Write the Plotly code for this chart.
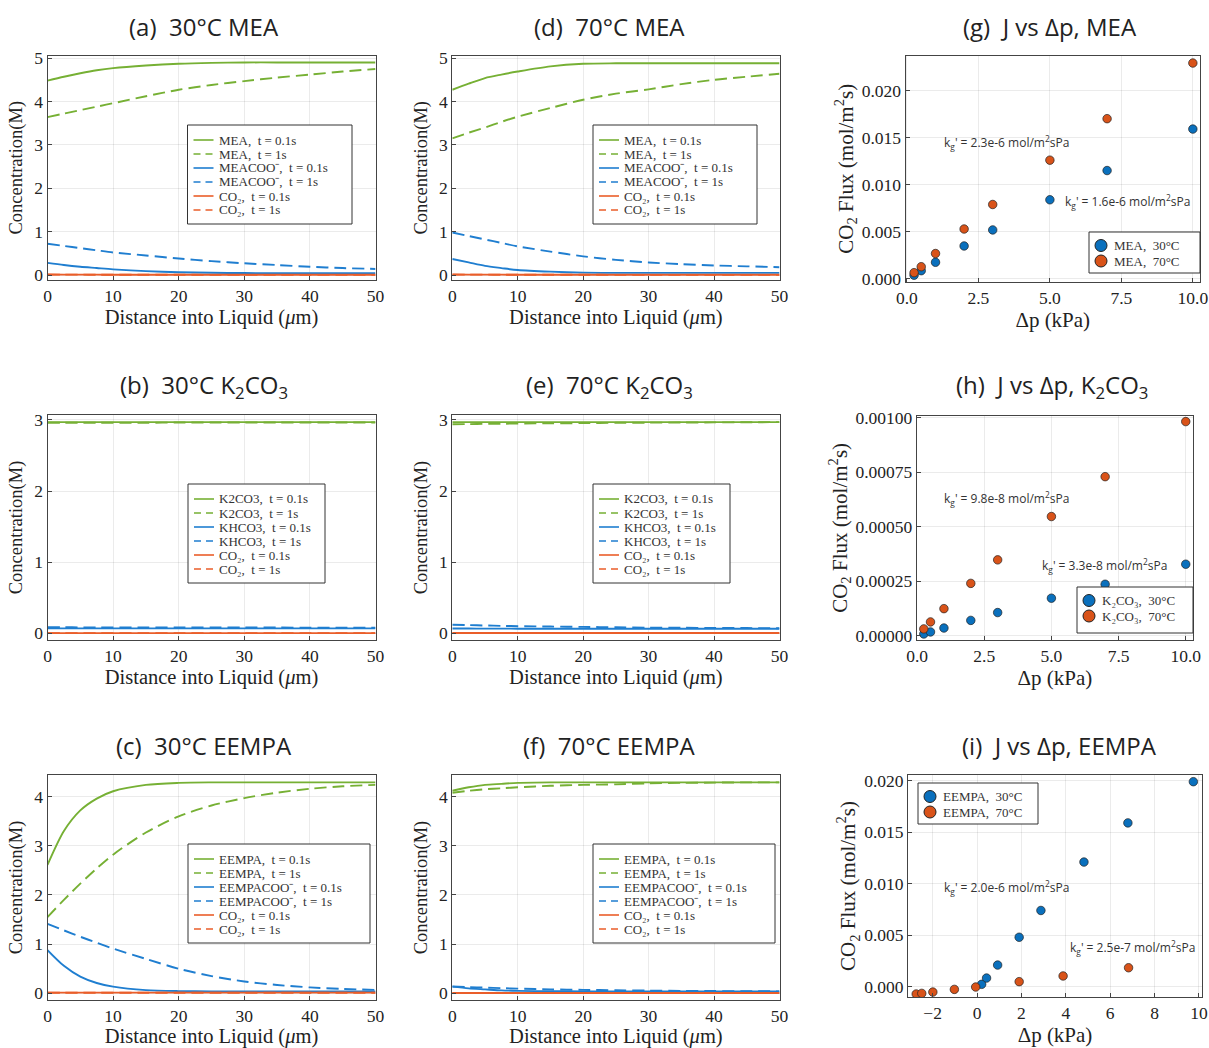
import plotly.graph_objects as go

W, H = 1209, 1048
SERIF = "Liberation Serif"
SANS = "Open Sans"
GREEN, BLUE, ORANGE = "#76B034", "#1F7ED0", "#EA5E2A"
SBLUE, SORANGE = "#0A70BD", "#D95319"

def fx(p):
    return p / W

def fy(p):
    return 1 - p / H

# ---------------- data ----------------
X = [0, 2.5, 5, 7.5, 10, 15, 20, 25, 30, 35, 40, 45, 50]

# (a) 30C MEA
a_mea_01 = [4.48, 4.57, 4.65, 4.72, 4.77, 4.83, 4.87, 4.89, 4.90, 4.90, 4.90, 4.90, 4.90]
a_mea_1 = [3.64, 3.72, 3.80, 3.88, 3.96, 4.12, 4.27, 4.38, 4.47, 4.55, 4.62, 4.69, 4.75]
a_coo_01 = [0.28, 0.23, 0.19, 0.16, 0.13, 0.09, 0.065, 0.052, 0.045, 0.042, 0.04, 0.04, 0.04]
a_coo_1 = [0.72, 0.67, 0.62, 0.57, 0.52, 0.45, 0.38, 0.32, 0.27, 0.23, 0.19, 0.16, 0.14]
a_co2_01 = [0.012, 0.010, 0.009, 0.008, 0.007, 0.006, 0.005, 0.005, 0.005, 0.005, 0.005, 0.005, 0.005]
a_co2_1 = [0.010, 0.009, 0.008, 0.007, 0.006, 0.005, 0.005, 0.004, 0.004, 0.004, 0.004, 0.004, 0.004]

# (d) 70C MEA
d_mea_01 = [4.27, 4.41, 4.54, 4.62, 4.69, 4.81, 4.87, 4.88, 4.88, 4.88, 4.88, 4.88, 4.88]
d_mea_1 = [3.15, 3.28, 3.40, 3.53, 3.65, 3.85, 4.04, 4.18, 4.28, 4.40, 4.50, 4.57, 4.64]
d_coo_01 = [0.37, 0.29, 0.21, 0.16, 0.115, 0.077, 0.055, 0.05, 0.05, 0.05, 0.05, 0.05, 0.05]
d_coo_1 = [0.98, 0.90, 0.82, 0.74, 0.66, 0.54, 0.43, 0.35, 0.29, 0.25, 0.22, 0.20, 0.18]
d_co2_01 = [0.012, 0.010, 0.009, 0.008, 0.007, 0.006, 0.005, 0.005, 0.005, 0.005, 0.005, 0.005, 0.005]
d_co2_1 = [0.010, 0.009, 0.008, 0.007, 0.006, 0.005, 0.005, 0.004, 0.004, 0.004, 0.004, 0.004, 0.004]

# (b) 30C K2CO3
b_k2_01 = [2.97] * 13
b_k2_1 = [2.96, 2.96, 2.96, 2.96, 2.96, 2.96, 2.965, 2.965, 2.965, 2.965, 2.965, 2.965, 2.965]
b_kh_01 = [0.07] * 13
b_kh_1 = [0.085, 0.085, 0.084, 0.084, 0.083, 0.083, 0.082, 0.082, 0.081, 0.081, 0.08, 0.08, 0.08]
b_co2_01 = [0.003] * 13
b_co2_1 = [0.002] * 13

# (e) 70C K2CO3
e_k2_01 = [2.97] * 13
e_k2_1 = [2.94, 2.942, 2.945, 2.947, 2.95, 2.953, 2.956, 2.96, 2.962, 2.964, 2.966, 2.968, 2.97]
e_kh_01 = [0.068, 0.067, 0.066, 0.066, 0.065, 0.065, 0.064, 0.064, 0.064, 0.064, 0.064, 0.064, 0.064]
e_kh_1 = [0.12, 0.115, 0.11, 0.105, 0.10, 0.095, 0.09, 0.085, 0.08, 0.078, 0.076, 0.074, 0.072]
e_co2_01 = [0.004] * 13
e_co2_1 = [0.003] * 13

# (c) 30C EEMPA
c_ee_01 = [2.61, 3.30, 3.72, 3.96, 4.11, 4.24, 4.28, 4.29, 4.29, 4.29, 4.29, 4.29, 4.29]
c_ee_1 = [1.55, 1.90, 2.23, 2.54, 2.82, 3.27, 3.60, 3.82, 3.97, 4.08, 4.16, 4.21, 4.24]
c_coo_01 = [0.88, 0.56, 0.34, 0.21, 0.135, 0.065, 0.045, 0.04, 0.04, 0.04, 0.04, 0.04, 0.04]
c_coo_1 = [1.41, 1.28, 1.15, 1.03, 0.91, 0.70, 0.50, 0.35, 0.24, 0.17, 0.12, 0.09, 0.07]
c_co2_01 = [0.015] * 13
c_co2_1 = [0.012] * 13

# (f) 70C EEMPA
f_ee_01 = [4.12, 4.19, 4.24, 4.26, 4.28, 4.29, 4.29, 4.29, 4.29, 4.29, 4.29, 4.29, 4.29]
f_ee_1 = [4.08, 4.12, 4.15, 4.17, 4.19, 4.22, 4.24, 4.25, 4.27, 4.28, 4.285, 4.29, 4.29]
f_coo_01 = [0.135, 0.10, 0.08, 0.06, 0.05, 0.042, 0.04, 0.04, 0.04, 0.04, 0.04, 0.04, 0.04]
f_coo_1 = [0.14, 0.128, 0.115, 0.105, 0.095, 0.08, 0.07, 0.062, 0.055, 0.05, 0.046, 0.043, 0.04]
f_co2_01 = [0.006] * 13
f_co2_1 = [0.005] * 13

# (g) J vs dp, MEA
g_dp = [0.25, 0.5, 1, 2, 3, 5, 7, 10]
g_j30 = [0.0004, 0.00088, 0.00177, 0.0035, 0.0052, 0.0084, 0.0115, 0.0159]
g_j70 = [0.00067, 0.0013, 0.0027, 0.0053, 0.0079, 0.0126, 0.0170, 0.0229]

# (h) J vs dp, K2CO3
h_dp = [0.25, 0.5, 1, 2, 3, 5, 7, 10]
h_j30 = [0.0000077, 0.000017, 0.000035, 0.000070, 0.000106, 0.000172, 0.000236, 0.000328]
h_j70 = [0.000031, 0.000063, 0.000124, 0.000240, 0.000348, 0.000547, 0.000730, 0.000983]

# (i) J vs dp, EEMPA
i_dp30 = [0.21, 0.43, 0.93, 1.90, 2.88, 4.82, 6.80, 9.75]
i_j30 = [0.00023, 0.00084, 0.0021, 0.0048, 0.0074, 0.0121, 0.0159, 0.0199]
i_dp70 = [-2.74, -2.49, -1.99, -1.02, -0.06, 1.90, 3.88, 6.83]
i_j70 = [-0.00071, -0.00065, -0.00052, -0.00026, -0.00003, 0.00049, 0.00104, 0.00184]

# ---------------- layout geometry (pixels) ----------------
C1 = (47.5, 375.5)
C2 = (452.3, 779.5)
R1 = (55.5, 280)
R2 = (415, 640)
R3 = (775, 1000)
geo = {
    1: (C1, R1, [0, 50], [-0.115, 5.06]),
    2: (C2, R1, [0, 50], [-0.115, 5.06]),
    3: ((905.5, 1200), (55.5, 282), [-0.05, 10.25], [-0.00032, 0.0237]),
    4: (C1, R2, [0, 50], [-0.094, 3.07]),
    5: (C2, R2, [0, 50], [-0.094, 3.07]),
    6: ((916.8, 1193), (415.7, 640), [-0.01, 10.27], [-0.00002, 0.00101]),
    7: (C1, R3, [0, 50], [-0.136, 4.44]),
    8: (C2, R3, [0, 50], [-0.136, 4.44]),
    9: ((908, 1202), (775, 997), [-3.11, 10.14], [-0.001, 0.02055]),
}

fig = go.Figure()
shapes = []
annotations = []

SOL, DSH = "solid", "12px,6px"

def add_lines(n, series):
    for name, vals, color, dash in series:
        fig.add_trace(go.Scatter(
            x=X, y=vals, mode="lines", name=name, showlegend=False,
            line=dict(color=color, width=1.9, dash=dash, shape="spline", smoothing=0.8),
            xaxis=f"x{n}", yaxis=f"y{n}"))

def line_legend(box, series, fsize=13):
    x0, y0, x1, y1 = box
    shapes.append(dict(type="rect", xref="paper", yref="paper",
                       x0=fx(x0), x1=fx(x1), y0=fy(y1), y1=fy(y0),
                       fillcolor="white", line=dict(color="#333", width=1), layer="above"))
    for i, (name, vals, color, dash) in enumerate(series):
        ry = y0 + 15 + i * 14.0
        shapes.append(dict(type="line", xref="paper", yref="paper",
                           x0=fx(x0 + 6), x1=fx(x0 + 26), y0=fy(ry), y1=fy(ry),
                           line=dict(color=color, width=1.6,
                                     dash="solid" if dash == SOL else "7px,5px"), layer="above"))
        annotations.append(dict(x=fx(x0 + 29), y=fy(ry), xref="paper", yref="paper", text=name,
                                showarrow=False, xanchor="left", yanchor="middle",
                                font=dict(family=SERIF, size=fsize, color="#333")))

def scatter_legend(box, items):
    x0, y0, x1, y1 = box
    shapes.append(dict(type="rect", xref="paper", yref="paper",
                       x0=fx(x0), x1=fx(x1), y0=fy(y1), y1=fy(y0),
                       fillcolor="white", line=dict(color="#333", width=1), layer="above"))
    for i, (name, color) in enumerate(items):
        ry = y0 + 13.5 + i * 15.5
        cx = x0 + 12
        r = 6
        shapes.append(dict(type="circle", xref="paper", yref="paper",
                           x0=fx(cx - r), x1=fx(cx + r), y0=fy(ry + r), y1=fy(ry - r),
                           fillcolor=color, line=dict(color="#222", width=1), layer="above"))
        annotations.append(dict(x=fx(cx + 11), y=fy(ry), xref="paper", yref="paper", text=name,
                                showarrow=False, xanchor="left", yanchor="middle",
                                font=dict(family=SERIF, size=13, color="#333")))

co2a = "CO₂,  t = 0.1s"
co2b = "CO₂,  t = 1s"

sa = [("MEA,  t = 0.1s", a_mea_01, GREEN, SOL), ("MEA,  t = 1s", a_mea_1, GREEN, DSH),
      ("MEACOO⁻,  t = 0.1s", a_coo_01, BLUE, SOL), ("MEACOO⁻,  t = 1s", a_coo_1, BLUE, DSH),
      (co2a, a_co2_01, ORANGE, SOL), (co2b, a_co2_1, ORANGE, DSH)]
sd = [("MEA,  t = 0.1s", d_mea_01, GREEN, SOL), ("MEA,  t = 1s", d_mea_1, GREEN, DSH),
      ("MEACOO⁻,  t = 0.1s", d_coo_01, BLUE, SOL), ("MEACOO⁻,  t = 1s", d_coo_1, BLUE, DSH),
      (co2a, d_co2_01, ORANGE, SOL), (co2b, d_co2_1, ORANGE, DSH)]
sb = [("K2CO3,  t = 0.1s", b_k2_01, GREEN, SOL), ("K2CO3,  t = 1s", b_k2_1, GREEN, DSH),
      ("KHCO3,  t = 0.1s", b_kh_01, BLUE, SOL), ("KHCO3,  t = 1s", b_kh_1, BLUE, DSH),
      (co2a, b_co2_01, ORANGE, SOL), (co2b, b_co2_1, ORANGE, DSH)]
se = [("K2CO3,  t = 0.1s", e_k2_01, GREEN, SOL), ("K2CO3,  t = 1s", e_k2_1, GREEN, DSH),
      ("KHCO3,  t = 0.1s", e_kh_01, BLUE, SOL), ("KHCO3,  t = 1s", e_kh_1, BLUE, DSH),
      (co2a, e_co2_01, ORANGE, SOL), (co2b, e_co2_1, ORANGE, DSH)]
sc = [("EEMPA,  t = 0.1s", c_ee_01, GREEN, SOL), ("EEMPA,  t = 1s", c_ee_1, GREEN, DSH),
      ("EEMPACOO⁻,  t = 0.1s", c_coo_01, BLUE, SOL), ("EEMPACOO⁻,  t = 1s", c_coo_1, BLUE, DSH),
      (co2a, c_co2_01, ORANGE, SOL), (co2b, c_co2_1, ORANGE, DSH)]
sf = [("EEMPA,  t = 0.1s", f_ee_01, GREEN, SOL), ("EEMPA,  t = 1s", f_ee_1, GREEN, DSH),
      ("EEMPACOO⁻,  t = 0.1s", f_coo_01, BLUE, SOL), ("EEMPACOO⁻,  t = 1s", f_coo_1, BLUE, DSH),
      (co2a, f_co2_01, ORANGE, SOL), (co2b, f_co2_1, ORANGE, DSH)]

for n, s in [(1, sa), (2, sd), (4, sb), (5, se), (7, sc), (8, sf)]:
    add_lines(n, s)

line_legend((187.5, 125, 352, 224), sa)
line_legend((593, 125, 757, 224), sd)
line_legend((188, 484, 325, 583), sb)
line_legend((593, 484, 730, 583), se)
line_legend((188, 844, 370, 943), sc)
line_legend((593, 844, 775, 943), sf)

def add_pts(n, x, y, color, name):
    fig.add_trace(go.Scatter(
        x=x, y=y, mode="markers", name=name, showlegend=False,
        marker=dict(color=color, size=8.5, line=dict(color="#222", width=0.7)),
        xaxis=f"x{n}", yaxis=f"y{n}"))

add_pts(3, g_dp, g_j30, SBLUE, "MEA,  30°C")
add_pts(3, g_dp, g_j70, SORANGE, "MEA,  70°C")
add_pts(6, h_dp, h_j30, SBLUE, "K2CO3, 30°C")
add_pts(6, h_dp, h_j70, SORANGE, "K2CO3, 70°C")
add_pts(9, i_dp30, i_j30, SBLUE, "EEMPA,  30°C")
add_pts(9, i_dp70, i_j70, SORANGE, "EEMPA,  70°C")

scatter_legend((1089, 232, 1200, 273), [("MEA,  30°C", SBLUE), ("MEA,  70°C", SORANGE)])
scatter_legend((1077, 587, 1193, 633), [("K₂CO₃,  30°C", SBLUE), ("K₂CO₃,  70°C", SORANGE)])
scatter_legend((918, 783, 1038, 824), [("EEMPA,  30°C", SBLUE), ("EEMPA,  70°C", SORANGE)])

layout = dict(
    width=W, height=H, margin=dict(l=0, r=0, t=0, b=0),
    paper_bgcolor="white", plot_bgcolor="white",
    font=dict(family=SERIF, size=16, color="#222"),
    showlegend=False,
)

ytitle_c = "Concentration(M)"
xtitle_c = "Distance into Liquid (<i>μ</i>m)"
ytitle_j = "CO<sub>2</sub> Flux (mol/m<sup>2</sup>s)"
xtitle_j = "Δp (kPa)"

for n, ((x0, x1), (y0, y1), xr, yr) in geo.items():
    common = dict(showline=True, linecolor="#444", linewidth=1, mirror=True,
                  ticks="inside", ticklen=4, tickcolor="#444", automargin=False,
                  showgrid=True, gridcolor="rgba(0,0,0,0.08)", gridwidth=1,
                  zeroline=False, tickfont=dict(family=SERIF, size=17.5, color="#222"))
    xa = dict(common, domain=[fx(x0), fx(x1)], anchor=f"y{n}", range=xr)
    ya = dict(common, domain=[fy(y1), fy(y0)], anchor=f"x{n}", range=yr)
    if n in (3, 6, 9):
        xa.update(title=dict(text=xtitle_j, font=dict(size=21), standoff=4))
        ya.update(title=dict(text=ytitle_j, font=dict(size=21), standoff=2))
    else:
        xa.update(title=dict(text=xtitle_c, font=dict(size=20.5), standoff=4),
                  tickmode="array", tickvals=[0, 10, 20, 30, 40, 50])
        ya.update(title=dict(text=ytitle_c, font=dict(size=18.5), standoff=6), dtick=1, tick0=0)
    if n in (3, 6):
        xa.update(tickvals=[0, 2.5, 5, 7.5, 10], ticktext=["0.0", "2.5", "5.0", "7.5", "10.0"], tickmode="array")
    if n == 3:
        ya.update(tickvals=[0, 0.005, 0.01, 0.015, 0.02], tickformat=".3f", tickmode="array")
    if n == 6:
        ya.update(tickvals=[0, 0.00025, 0.0005, 0.00075, 0.001], tickformat=".5f", tickmode="array")
    if n == 9:
        xa.update(tickvals=[-2, 0, 2, 4, 6, 8, 10], tickmode="array")
        ya.update(tickvals=[0, 0.005, 0.01, 0.015, 0.02], tickformat=".3f", tickmode="array")
    layout["xaxis" if n == 1 else f"xaxis{n}"] = xa
    layout["yaxis" if n == 1 else f"yaxis{n}"] = ya

# titles
titles = [
    (204, 26, "(a)  30°C MEA"),
    (609, 26, "(d)  70°C MEA"),
    (1050, 26, "(g)  J vs Δp, MEA"),
    (204, 386, "(b)  30°C K<sub>2</sub>CO<sub>3</sub>"),
    (609, 386, "(e)  70°C K<sub>2</sub>CO<sub>3</sub>"),
    (1052, 386, "(h)  J vs Δp, K<sub>2</sub>CO<sub>3</sub>"),
    (204, 745, "(c)  30°C EEMPA"),
    (609, 745, "(f)  70°C EEMPA"),
    (1059, 745, "(i)  J vs Δp, EEMPA"),
]
for x, y, t in titles:
    annotations.append(dict(x=fx(x), y=fy(y), xref="paper", yref="paper", text=t, showarrow=False,
                            xanchor="center", yanchor="middle",
                            font=dict(family=SANS, size=24, color="#222")))

notes = [
    (942, 142, "k<sub>g</sub>' = 2.3e-6 mol/m<sup>2</sup>sPa"),
    (1063, 202, "k<sub>g</sub>' = 1.6e-6 mol/m<sup>2</sup>sPa"),
    (942, 499, "k<sub>g</sub>' = 9.8e-8 mol/m<sup>2</sup>sPa"),
    (1040, 565, "k<sub>g</sub>' = 3.3e-8 mol/m<sup>2</sup>sPa"),
    (942, 887, "k<sub>g</sub>' = 2.0e-6 mol/m<sup>2</sup>sPa"),
    (1068, 947, "k<sub>g</sub>' = 2.5e-7 mol/m<sup>2</sup>sPa"),
]
for x, y, t in notes:
    annotations.append(dict(x=fx(x), y=fy(y), xref="paper", yref="paper", text=t, showarrow=False,
                            xanchor="left", yanchor="middle",
                            font=dict(family=SANS, size=12, color="#333")))

layout["shapes"] = shapes
layout["annotations"] = annotations
fig.update_layout(**layout)

fig.write_html("out.html")
